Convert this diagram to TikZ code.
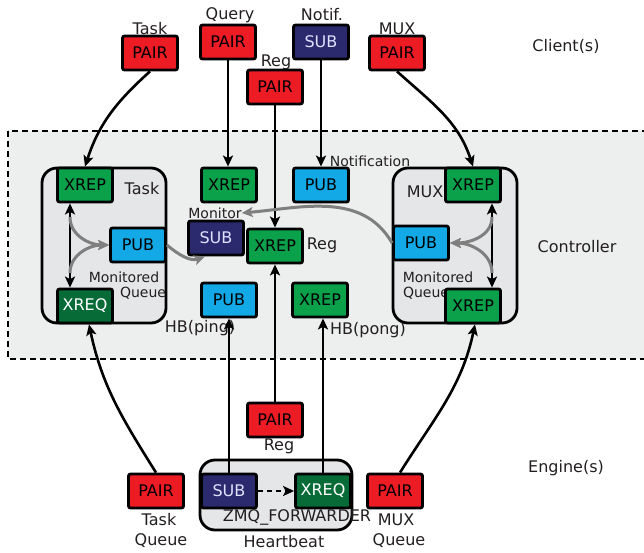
\documentclass[tikz,border=0pt]{standalone}
\usepackage{fontspec}
\setmainfont{DejaVu Sans}
\usetikzlibrary{arrows.meta}
\definecolor{cred}{HTML}{ED1C24}
\definecolor{cnavy}{HTML}{2B2A6E}
\definecolor{cgreen}{HTML}{0BA14B}
\definecolor{cdgreen}{HTML}{066B36}
\definecolor{cblue}{HTML}{12A9E6}
\definecolor{cbg}{HTML}{EDEEEE}
\definecolor{cgrp}{HTML}{E5E6E8}
\definecolor{cgrey}{HTML}{7F7F7F}
\definecolor{ctext}{HTML}{231F20}
\begin{document}
\begin{tikzpicture}[x=1pt,y=-1pt,
 sock/.style={draw=black, line width=2.8pt, rounded corners=2pt, minimum width=55pt, minimum height=34pt, inner sep=0pt, font=\fontsize{16}{19}\selectfont},
 spair/.style={sock, fill=cred, text=black},
 ssub/.style={sock, fill=cnavy, text=white!88!blue},
 sxrep/.style={sock, fill=cgreen, text=black},
 sxreq/.style={sock, fill=cdgreen, text=white},
 spub/.style={sock, fill=cblue, text=black},
 grpbox/.style={draw=black, line width=2.8pt, rounded corners=15pt, fill=cgrp},
 lbl/.style={inner sep=0pt, font=\fontsize{16}{19}\selectfont, text=ctext},
 sml/.style={inner sep=0pt, font=\fontsize{14}{16}\selectfont, text=ctext},
 conn/.style={line width=2.6pt, -{Stealth[length=11pt,width=10pt,inset=2.5pt]}},
 dconn/.style={line width=2.6pt, {Stealth[length=11pt,width=10pt,inset=2.5pt]}-{Stealth[length=11pt,width=10pt,inset=2.5pt]}},
 mconn/.style={line width=3pt, draw=cgrey, -{Stealth[length=11pt,width=10pt,inset=2.5pt]}},
]
\useasboundingbox (0,0) rectangle (644,553);
% controller area
\draw[line width=2.8pt, dash pattern=on 6pt off 4pt, fill=cbg] (8,131) rectangle (660,359);
% groups
\draw[grpbox] (42,168) rectangle (166,323);
\draw[grpbox] (393,168) rectangle (517,323);
\draw[grpbox] (200,460) rectangle (352,530);
% group labels
\node[sml] (tmq1) at (124,277) {Monitored};
\node[sml] (tmq2) at (143,293) {Queue};
\node[lbl] (tgl) at (142,189) {Task};
\node[sml] (mmq1) at (438,277) {Monitored};
\node[sml] (mmq2) at (426,293) {Queue};
\node[lbl] (mgl) at (425,192) {MUX};
% client boxes
\node[spair] (tPair) at (150,53) {PAIR};
\node[spair] (qPair) at (228,42) {PAIR};
\node[ssub] (nSub) at (321,42) {SUB};
\node[spair] (rPair) at (275,87) {PAIR};
\node[spair] (mPair) at (397,53) {PAIR};
% controller boxes
\node[sxrep] (tXrep) at (85,185) {XREP};
\node[spub] (tPub) at (138,245) {PUB};
\node[sxreq] (tXreq) at (85,306) {XREQ};
\node[sxrep] (qXrep) at (229,185) {XREP};
\node[ssub] (mon) at (216,238) {SUB};
\node[sxrep] (rXrep) at (275,246) {XREP};
\node[spub] (nPub) at (321,185) {PUB};
\node[spub] (hPub) at (229,300) {PUB};
\node[sxrep] (hXrep) at (320,300) {XREP};
\node[sxrep] (mXrep) at (473,185) {XREP};
\node[spub] (mPub) at (421,243) {PUB};
\node[sxrep] (mXrepB) at (473,306) {XREP};
% engine boxes
\node[spair] (rPairB) at (275,420) {PAIR};
\node[spair] (tqPair) at (156,491) {PAIR};
\node[ssub] (hSub) at (229,491) {SUB};
\node[sxreq] (hXreq) at (323,491) {XREQ};
\node[spair] (mqPair) at (395,491) {PAIR};
% labels
\node[lbl] (lTask) at (150,29) {Task};
\node[lbl] (lQuery) at (230,15) {Query};
\node[lbl] (lNotif) at (322,15) {Notif.};
\node[lbl] (lReg) at (276,62) {Reg};
\node[lbl] (lMux) at (397,29) {MUX};
\node[lbl] (lClient) at (566,46) {Client(s)};
\node[sml] (monlab) at (215,213) {Monitor};
\node[lbl] (lRegX) at (322,245) {Reg};
\node[sml] (lNotifn) at (370,161) {Notification};
\node[lbl] (lPing) at (200,328) {HB(ping)};
\node[lbl] (lPong) at (368,330) {HB(pong)};
\node[lbl] (lCtrl) at (577,247) {Controller};
\node[lbl] (lRegB) at (279,446) {Reg};
\node[lbl] (lTq1) at (159,520) {Task};
\node[lbl] (lTq2) at (161,541) {Queue};
\node[lbl] (lFwd) at (297,517) {ZMQ\_FORWARDER};
\node[lbl] (lMq1) at (396,520) {MUX};
\node[lbl] (lMq2) at (399,541) {Queue};
\node[lbl] (lHb) at (284,542) {Heartbeat};
\node[lbl] (lEng) at (566,468) {Engine(s)};
% client connectors
\draw[conn] (tPair.south) to[out=-138,in=72] (tXrep.north);
\draw[conn] (mPair.south) to[out=-42,in=108] (mXrep.north);
\draw[conn] (qPair.south) -- (qPair.south |- qXrep.north);
\draw[conn] (nSub.south) -- (nPub.north);
\draw[conn] (rPair.south) -- (rXrep.north);
% task queue internals
\draw[dconn] ([xshift=-15pt]tXrep.south) -- ([xshift=-15pt]tXreq.north);
\coordinate (tA) at (70,217);
\coordinate (tB) at (70,273);
\draw[mconn] (tA) to[out=-90,in=180] (tPub.west);
\draw[mconn] (tB) to[out=90,in=180] (tPub.west);
% mux queue internals
\draw[dconn] ([xshift=19pt]mXrep.south) -- ([xshift=19pt]mXrepB.north);
\coordinate (mA) at (492,217);
\coordinate (mB) at (492,273);
\draw[mconn] (mA) to[out=-90,in=0] (mPub.east);
\draw[mconn] (mB) to[out=90,in=0] (mPub.east);
% monitor links
\draw[mconn] (tPub.east) to[out=-40,in=200] ([xshift=-11pt]mon.south);
\draw[mconn] (mPub.west) to[out=120,in=5] (monlab.east);
% engine connectors
\draw[conn] (tqPair.north) to[out=122,in=-78] ([xshift=4pt]tXreq.south);
\draw[conn] ([xshift=5pt]mqPair.north) to[out=58,in=-102] ([xshift=2pt]mXrepB.south);
\draw[conn] (rPairB.north) -- (rXrep.south);
\draw[conn] (hSub.north) -- (hPub.south);
\draw[conn] (hXreq.north) -- (hXreq.north |- hXrep.south);
\draw[line width=2.6pt, dash pattern=on 5pt off 4pt, -{Stealth[length=11pt,width=10pt,inset=2.5pt]}] (hSub.east) -- (hXreq.west);
\end{tikzpicture}
\end{document}
